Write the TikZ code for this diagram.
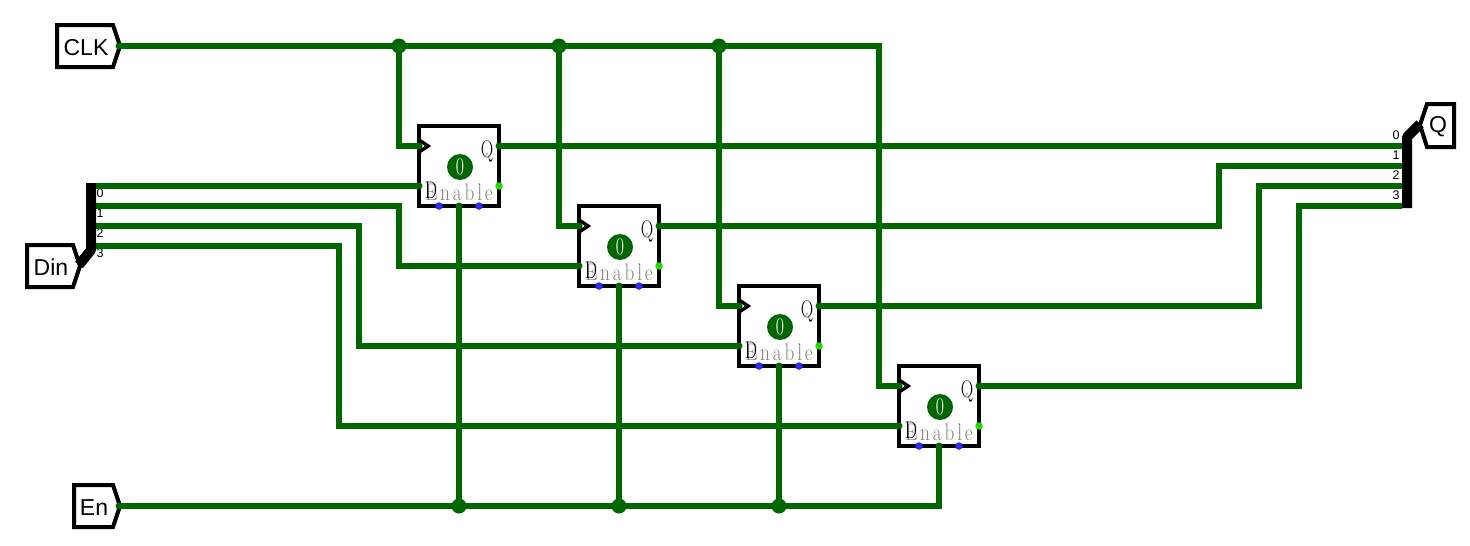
\documentclass[tikz,border=0pt]{standalone}
\usepackage{fontspec}
\newfontfamily\pinsans{Liberation Sans}
\definecolor{wiregreen}{RGB}{0,102,0}
\definecolor{outgreen}{RGB}{30,220,0}
\definecolor{pinblue}{RGB}{40,40,255}
\definecolor{labgray}{RGB}{128,128,128}
\tikzset{
 wire/.style={draw=wiregreen,line width=5.4pt,line join=miter},
 outline/.style={draw=black,line width=4pt,line join=miter,fill=white},
 bus/.style={draw=black,line width=10pt,line join=bevel},
 regbox/.style={draw=black,fill=white,line width=4pt,minimum size=80pt,inner sep=0pt},
 labeltext/.style={font=\pinsans\fontsize{23}{23}\selectfont,inner sep=0pt},
 bitnum/.style={font=\pinsans\fontsize{12.5}{12.5}\selectfont,inner sep=0pt},
 junct/.style={circle,fill=wiregreen,inner sep=0pt,minimum size=15pt},
 pindot/.style={circle,fill=wiregreen,inner sep=0pt,minimum size=7pt},
 bluepin/.style={circle,fill=pinblue,inner sep=0pt,minimum size=7.5pt},
 greenpin/.style={circle,fill=outgreen,inner sep=0pt,minimum size=7.5pt},
 valdot/.style={circle,fill=wiregreen,inner sep=0pt,minimum size=26pt},
 valtext/.style={inner sep=0pt,text=white,xscale=.75,font=\fontsize{24}{24}\selectfont},
 pinq/.style={inner sep=0pt,xscale=.72,font=\fontsize{24}{24}\selectfont},
 graytext/.style={inner sep=0pt,text=labgray,xscale=.8,font=\fontsize{24}{24}\selectfont},
}
\newcommand{\gk}{\kern3.6pt\relax}
\newcommand{\regat}[3]{%
 \node[regbox] (#1) at (#2,#3) {};
 \draw[draw=black,line width=3.5pt,line join=miter] (#2-40,#3-26) -- (#2-31,#3-20) -- (#2-40,#3-14);
 \node[valdot] (#1val) at (#2+1,#3+1) {};
 \node[valtext] (#1valt) at (#1val.center) {0};
 \node[graytext] (#1en) at (#2,#3+26) {E\gk n\gk a\gk b\gk l\gk e};
 \node[pinq] (#1dl) at (#2-28,#3+24) {D};
 \node[pinq] (#1ql) at (#2+28,#3-15) {Q};
 \coordinate (#1clk) at (#2-40,#3-20);
 \coordinate (#1d) at (#2-40,#3+20);
 \coordinate (#1q) at (#2+40,#3-20);
 \coordinate (#1e) at (#2,#3+40);
 \node[bluepin] (#1b1) at (#2-20,#3+40) {};
 \node[bluepin] (#1b2) at (#2+20,#3+40) {};
 \node[greenpin] (#1g) at (#2+40,#3+20) {};
}
\begin{document}
\begin{tikzpicture}[x=1pt,y=-1pt]
\useasboundingbox[fill=white] (0,0) rectangle (1470,546);
% registers
\regat{ra}{459}{166}
\regat{rb}{619}{246}
\regat{rc}{779}{326}
\regat{rd}{939}{406}
% I/O shapes
\draw[outline] (57,25) -- (113,25) -- (120,46) -- (113,67) -- (57,67) -- cycle;
\node[labeltext] (clk) at (86,47.5) {CLK};
\draw[outline] (74,485) -- (113,485) -- (120,506) -- (113,527) -- (74,527) -- cycle;
\node[labeltext] (en) at (94,507.5) {En};
\draw[outline] (27,245) -- (73,245) -- (80,266) -- (73,287) -- (27,287) -- cycle;
\node[labeltext] (din) at (51,267.5) {Din};
\draw[outline] (1454,104) -- (1427,104) -- (1420,125) -- (1427,147) -- (1454,147) -- cycle;
\node[labeltext] (qout) at (1438,127) {Q};
% named points
\coordinate (clkp) at (119,46);
\coordinate (enp) at (119,506);
\node[junct] (j1) at (399,46) {};
\node[junct] (j2) at (559,46) {};
\node[junct] (j3) at (719,46) {};
\node[junct] (k1) at (459,506) {};
\node[junct] (k2) at (619,506) {};
\node[junct] (k3) at (779,506) {};
\foreach \i/\y in {0/186,1/206,2/226,3/246}{
  \coordinate (s\i) at (96,\y);
  \node[pindot,minimum size=6pt] (sd\i) at (119,\y) {};
  \node[bitnum] (sn\i) at (100,\y+7.5) {\i};
}
\foreach \i/\y in {0/146,1/166,2/186,3/206}{
  \coordinate (t\i) at (1402,\y);
  \node[pindot,minimum size=6pt] (td\i) at (1379,\y) {};
  \node[bitnum] (tn\i) at (1396,\y-10.5) {\i};
}
% clock
\draw[wire] (clkp) -- (j1.center) -- (j2.center) -- (j3.center) -- (879,46) -- (879,386) -- (rdclk);
\draw[wire] (j1.center) -- (399,146) -- (raclk);
\draw[wire] (j2.center) -- (559,226) -- (rbclk);
\draw[wire] (j3.center) -- (719,306) -- (rcclk);
% data in
\draw[wire] (s0) -- (rad);
\draw[wire] (s1) -- (399,206) -- (399,266) -- (rbd);
\draw[wire] (s2) -- (359,226) -- (359,346) -- (rcd);
\draw[wire] (s3) -- (339,246) -- (339,426) -- (rdd);
% data out
\draw[wire] (raq) -- (t0);
\draw[wire] (rbq) -- (1219,226) -- (1219,166) -- (t1);
\draw[wire] (rcq) -- (1259,306) -- (1259,186) -- (t2);
\draw[wire] (rdq) -- (1299,386) -- (1299,206) -- (t3);
% enable
\draw[wire] (enp) -- (k1.center) -- (k2.center) -- (k3.center) -- (939,506) -- (rde);
\draw[wire] (k1.center) -- (rae);
\draw[wire] (k2.center) -- (rbe);
\draw[wire] (k3.center) -- (rce);
% pin dots on top
\foreach \r in {ra,rb,rc,rd}{
  \node[pindot] (\r pa) at (\r clk) {};
  \node[pindot] (\r pb) at (\r d) {};
  \node[pindot] (\r pc) at (\r q) {};
  \node[pindot] (\r pd) at (\r e) {};
}
\node[pindot] (clkdot) at (clkp) {};
\node[pindot] (endot) at (enp) {};
% splitters
\draw[bus] (91,183) -- (91,250) -- (79,265);
\draw[bus] (1407,208) -- (1407,137) -- (1420,124);
\end{tikzpicture}
\end{document}
